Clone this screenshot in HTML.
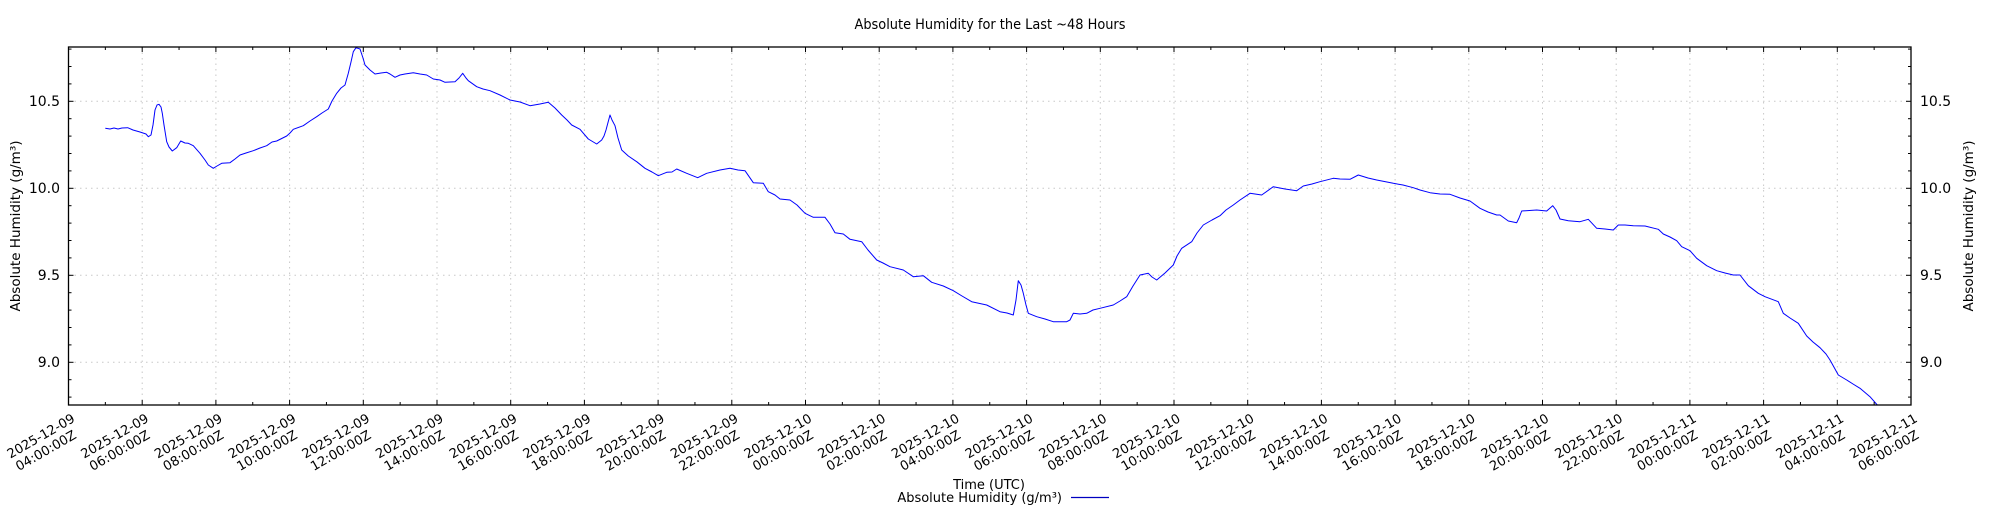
<!DOCTYPE html>
<html><head><meta charset="utf-8"><style>html,body{margin:0;padding:0;background:#fff}svg{display:block}</style></head>
<body>
<svg width="2000" height="512" viewBox="0 0 2000 512" xmlns="http://www.w3.org/2000/svg" font-family="DejaVu Sans, Liberation Sans, sans-serif">
<rect width="2000" height="512" fill="#fff"/>
<g stroke="#c8c8c8" stroke-width="1" stroke-dasharray="1.5,4">
<line x1="69" y1="101.3" x2="1911" y2="101.3"/>
<line x1="69" y1="188.3" x2="1911" y2="188.3"/>
<line x1="69" y1="275.3" x2="1911" y2="275.3"/>
<line x1="69" y1="362.3" x2="1911" y2="362.3"/>
<g id="vg"></g>
</g>
<polyline fill="none" stroke="#0000ff" stroke-width="1" stroke-linejoin="round" points="105.3,128.3 110,129 114,128 118,129 122,128 127.7,127.7 133,130 140,132 146,134 148.3,136.7 151,135 153,125 155,110 157,105 159,104.3 161,107 162.3,113.3 164,125 166.7,141.7 169,147 172.3,151 176.7,147.7 180.7,141 185,143 188.3,143.3 193.3,145.7 200,153.3 205,160 208.3,165 213.3,168.3 217,166 221.7,163.3 230,162.7 235,159 240,155 246,153 253.3,150.7 260,148 266.7,145.7 272,142 276.7,141 286.7,136 290,133 293.3,129.3 303.3,125.7 310,121 316.7,116.7 322,113 328.3,109 332,101 336.7,93.3 341,88 345,85 348.3,73.3 351,62 353.3,51.7 356,47.7 360,49 363,58 365,65 370,70 375,74 381,73 386.7,72.3 390,74 395,77.3 400,75 405,74 413.3,72.7 420,74 426.7,75 433.3,79 440,80 445,82.3 450,82 455,81.7 459,78 462.7,73.3 466,78 468.3,80.7 476.7,86.7 483,89 490,90.7 500,95 510,100 520,102 530,105.7 540,104 548.3,102.3 555,108 561.7,115 567,120 571.7,125 580,129.3 588.3,139 596.7,144 601.7,140 604,136 606,130 610,115 612,120 615,125.7 618,138 621.7,150 628.3,156 636.7,161.7 645,168.3 652,172 658.3,175.7 666.7,172.3 672,172 676.7,169 686.7,173.3 697.7,177.7 706.7,173.3 720,170 730,168.3 738,170 745,170.7 753.3,182.7 763.3,183.3 768.3,191.7 775,195 780,199 790,200 797,205 805,213.3 813.3,217.3 825,217.3 830,224 835,232.7 843.3,234 850,239.3 861.7,241.7 868,250 876.7,260 883,263 890,266.7 903.3,270 913.3,276.7 923.3,275.7 931.7,282.3 943.3,286 953.3,290.7 962,296 971.7,301.7 986.7,305 1000,311.7 1007,313 1013.3,315 1016,300 1018.3,280.7 1021,285 1023.3,293.3 1026,305 1028.3,313.3 1036.7,316.7 1045,319 1053.3,321.7 1066.7,321.7 1070,320 1073.3,313.3 1080,314 1086.7,313.3 1093,310 1100,308.3 1113.3,305 1120,301 1126.7,296.7 1133,286 1140,275 1148.3,273.3 1152,277 1156.7,280 1165,273 1173.3,265 1177,256 1181.7,248.3 1191.7,241.7 1197,233 1203.3,225 1212,220 1220,215.7 1226,210 1233.3,205 1240,200 1250,193.3 1255,194 1261.7,195 1273.3,186.7 1285,189 1296.7,190.7 1303.3,186 1312,184 1320,181.7 1333.3,178.3 1340,179 1350,179.3 1358.3,175 1368,178 1376.7,180 1393.3,183.3 1403,185 1413.3,187.7 1420,190 1430,192.7 1440,194 1450,194.3 1460,198 1470,201 1480,208.3 1488,212 1496.7,215 1500,215 1508.3,221 1516.7,222.7 1519,218 1521.7,211 1536.7,210 1546.7,211 1552.7,205.7 1556,210 1560,219 1568.3,220.7 1580,221.7 1588.3,219.3 1596.7,228.3 1605,229 1613.3,230 1618.3,225 1625,225 1633.3,225.7 1645,226 1658.3,229.3 1663.3,234 1670,237 1676.7,240.7 1681.7,246.7 1690,250.7 1696.7,258.3 1706.7,265.7 1716.7,270.7 1725,273 1733.3,275 1740,275 1748.3,285.7 1758.3,293.3 1765,296.7 1778.3,301.7 1783.3,313.3 1790,318 1798.3,323.3 1806.7,336 1813,342 1820,347.7 1826,354 1830,360 1835,369 1838.3,375 1846.7,380 1853,384 1860,388.3 1870,396.7 1877.3,405"/>
<rect x="68.5" y="47" width="1842.5" height="358" fill="none" stroke="#000" stroke-width="1.3"/>
<g id="ticks" stroke="#000" stroke-width="1"></g>
<g id="xl" font-size="13" fill="#000"></g>
<g font-size="14" fill="#000">
<text x="60" y="106" text-anchor="end">10.5</text>
<text x="60" y="193" text-anchor="end">10.0</text>
<text x="60" y="280" text-anchor="end">9.5</text>
<text x="60" y="367" text-anchor="end">9.0</text>
<text x="1920" y="106">10.5</text>
<text x="1920" y="193">10.0</text>
<text x="1920" y="280">9.5</text>
<text x="1920" y="367">9.0</text>
<text transform="translate(20,226) rotate(-90)" text-anchor="middle" font-size="13.5">Absolute Humidity (g/m³)</text>
<text transform="translate(1973,226) rotate(-90)" text-anchor="middle" font-size="13.5">Absolute Humidity (g/m³)</text>
<text x="990" y="29" text-anchor="middle" font-size="14" font-family="DejaVu Sans Condensed, Liberation Sans Narrow, sans-serif" textLength="271" lengthAdjust="spacingAndGlyphs">Absolute Humidity for the Last ~48 Hours</text>
<text x="989" y="489" text-anchor="middle" font-size="13">Time (UTC)</text>
<text x="1062" y="502" text-anchor="end" font-size="13">Absolute Humidity (g/m³)</text>
</g>
<line x1="1071" y1="497.5" x2="1109" y2="497.5" stroke="#0000c0" stroke-width="1.2"/>
<script>
(function(){
var NS="http://www.w3.org/2000/svg";
var x0=68.5,ph=36.85;
var vg=document.getElementById('vg'),tk=document.getElementById('ticks'),xl=document.getElementById('xl');
function ln(p,a,b,c,d){var l=document.createElementNS(NS,'line');l.setAttribute('x1',a);l.setAttribute('y1',b);l.setAttribute('x2',c);l.setAttribute('y2',d);p.appendChild(l);}
var days=['09','10','11'];
for(var h=0;h<=50;h++){
 var x=x0+h*ph; var major=(h%2==0); var len=major?5:3;
 ln(tk,x,405,x,405-len); ln(tk,x,47,x,47+len);
 if(major){
  if(h>0&&h<50) ln(vg,x,47,x,405);
  var ab=4+h, d=Math.floor(ab/24), hr=ab%24;
  var g=document.createElementNS(NS,'g');g.setAttribute('transform','translate('+(x+3)+',405) rotate(-30)');
  var t1=document.createElementNS(NS,'text');t1.setAttribute('x',-42);t1.setAttribute('y',16);t1.setAttribute('text-anchor','middle');t1.textContent='2025-12-'+days[d];
  var t2=document.createElementNS(NS,'text');t2.setAttribute('x',-45);t2.setAttribute('y',31);t2.setAttribute('text-anchor','middle');t2.textContent=(hr<10?'0':'')+hr+':00:00Z';
  g.appendChild(t1);g.appendChild(t2);xl.appendChild(g);
 }
}
for(var v=88;v<=108;v++){
 var y=188.3-(v/10-10)*174; if(y<47||y>405) continue;
 var major=(v%5==0); var len=major?5:3;
 ln(tk,68.5,y,68.5+len,y); ln(tk,1911,y,1911-len,y);
}
})();
</script>
</svg>
</body></html>
